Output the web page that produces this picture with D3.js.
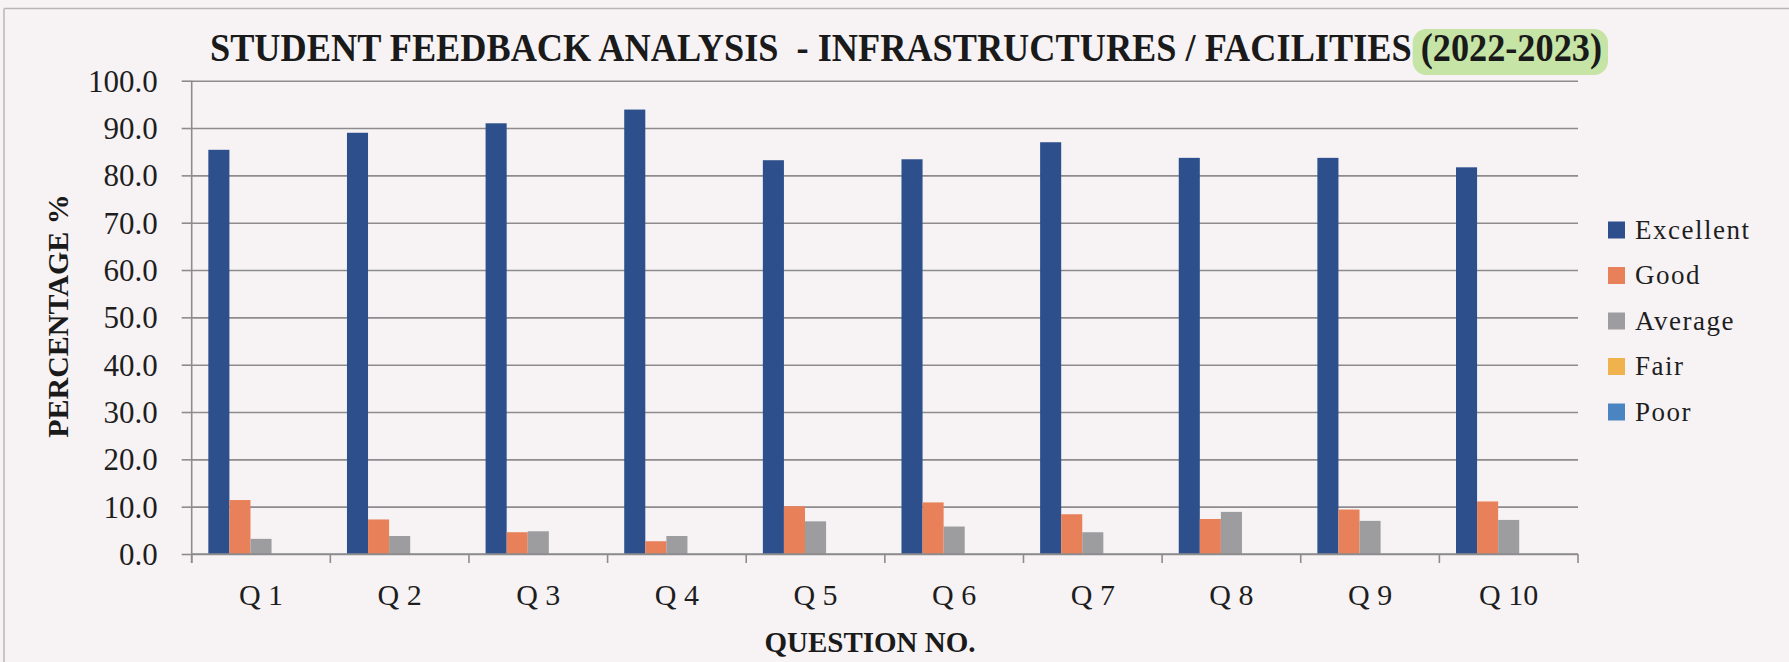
<!DOCTYPE html>
<html>
<head>
<meta charset="utf-8">
<script src="https://cdn.jsdelivr.net/npm/d3@7"></script>
<style>
    html, body { margin: 0; padding: 0; background: #f7f3f5; }
    svg { display: block; }
</style>
</head>
<body>
<svg id="chart" width="1789" height="662"></svg>
<script>
// data
const questions = ['Q 1', 'Q 2', 'Q 3', 'Q 4', 'Q 5', 'Q 6', 'Q 7', 'Q 8', 'Q 9', 'Q 10'];
const seriesNames = ['Excellent', 'Good', 'Average', 'Fair', 'Poor'];
const excellent = [85.4, 89.0, 91.0, 93.9, 83.2, 83.4, 87.0, 83.7, 83.7, 81.7];
const good = [11.4, 7.3, 4.6, 2.7, 10.1, 10.9, 8.4, 7.4, 9.4, 11.1];
const average = [3.2, 3.8, 4.8, 3.8, 6.9, 5.8, 4.6, 8.9, 7.0, 7.2];
const fair = [0, 0, 0, 0, 0, 0, 0, 0, 0, 0];
const poor = [0, 0, 0, 0, 0, 0, 0, 0, 0, 0];
const yTicks = [0, 10, 20, 30, 40, 50, 60, 70, 80, 90, 100];

const colors = {
    Excellent: '#2d4f8c',
    Good: '#e8805a',
    Average: '#9d9d9f',
    Fair: '#f0b24c',
    Poor: '#4b85c1'
};
const serif = '"Liberation Serif", "Times New Roman", serif';

const margin = { top: 80.7, left: 191.7 };
const width = 1386.3;
const height = 473.3;

const svg = d3.select('#chart');

// thin frame of the original chart box
svg.append('line')
    .attr('x1', 4).attr('x2', 1789).attr('y1', 8.5).attr('y2', 8.5)
    .attr('stroke', '#b9b6b8').attr('stroke-width', 1.5);
svg.append('line')
    .attr('x1', 4).attr('x2', 4).attr('y1', 8.5).attr('y2', 662)
    .attr('stroke', '#b9b6b8').attr('stroke-width', 1.5);

// Title with highlighted year
const highlight = svg.append('rect')
    .attr('rx', 14)
    .attr('fill', '#bde096')
    .attr('opacity', 0.85);

const title = svg.append('text')
    .attr('x', 210)
    .attr('y', 61)
    .attr('textLength', 1392)
    .attr('lengthAdjust', 'spacingAndGlyphs')
    .style('font-family', serif)
    .style('font-weight', 'bold')
    .style('font-size', '39px')
    .style('fill', '#1a1a1a')
    .style('white-space', 'pre')
    .text('STUDENT FEEDBACK ANALYSIS  - INFRASTRUCTURES / FACILITIES (2022-2023)');

const titleStr = title.text();
const startIdx = titleStr.indexOf('(');
let hx0 = 1365, hx1 = 1603;
try {
    hx0 = title.node().getStartPositionOfChar(startIdx).x - 8;
    hx1 = title.node().getEndPositionOfChar(titleStr.length - 1).x + 6;
} catch (e) {}
highlight
    .attr('x', hx0)
    .attr('y', 29)
    .attr('width', hx1 - hx0)
    .attr('height', 46);

const g = svg.append('g')
    .attr('transform', 'translate(' + margin.left + ',' + margin.top + ')');

// Scales
const x0 = d3.scaleBand()
    .domain(questions)
    .range([0, width])
    .paddingInner(0.24)
    .paddingOuter(0.12);

const x1 = d3.scaleBand()
    .domain(seriesNames)
    .range([0, x0.bandwidth()]);

const y = d3.scaleLinear()
    .domain([0, 100])
    .range([height, 0]);

// Gridlines
g.append('g')
    .call(d3.axisLeft(y).tickValues(yTicks).tickSize(-width).tickFormat(''))
    .call(a => a.select('.domain').remove())
    .call(a => a.selectAll('line').attr('stroke', '#8d8b8e').attr('stroke-width', 1.6));

// Y axis
g.append('g')
    .call(d3.axisLeft(y).tickValues(yTicks).tickSize(10).tickPadding(24).tickFormat(d3.format('.1f')))
    .call(a => a.select('.domain').remove())
    .call(a => a.selectAll('line').attr('stroke', '#8d8b8e').attr('stroke-width', 1.6))
    .call(a => a.selectAll('text')
        .style('font-family', serif)
        .style('font-size', '31px')
        .attr('fill', '#1e1e1e')
        .attr('dy', '0.34em'));

// Bars
const rows = questions.map((q, i) => ({
    q: q,
    values: [
        { key: 'Excellent', value: excellent[i] },
        { key: 'Good', value: good[i] },
        { key: 'Average', value: average[i] },
        { key: 'Fair', value: fair[i] },
        { key: 'Poor', value: poor[i] }
    ]
}));

g.selectAll('.cluster')
    .data(rows)
    .enter()
    .append('g')
    .attr('class', 'cluster')
    .attr('transform', d => 'translate(' + x0(d.q) + ',0)')
    .selectAll('rect')
    .data(d => d.values)
    .enter()
    .append('rect')
    .attr('x', d => x1(d.key))
    .attr('y', d => y(d.value))
    .attr('width', x1.bandwidth())
    .attr('height', d => height - y(d.value))
    .attr('fill', d => colors[d.key]);

// X axis line + category boundary ticks
const xBounds = d3.scaleLinear().domain([0, questions.length]).range([0, width]);
g.append('line')
    .attr('x1', 0).attr('x2', width)
    .attr('y1', height).attr('y2', height)
    .attr('stroke', '#8d8b8e').attr('stroke-width', 1.6);
g.append('line')
    .attr('x1', 0).attr('x2', 0)
    .attr('y1', 0).attr('y2', height + 9)
    .attr('stroke', '#8d8b8e').attr('stroke-width', 1.6);
g.selectAll('.xtick')
    .data(d3.range(questions.length + 1))
    .enter()
    .append('line')
    .attr('class', 'xtick')
    .attr('x1', d => xBounds(d)).attr('x2', d => xBounds(d))
    .attr('y1', height).attr('y2', height + 9)
    .attr('stroke', '#8d8b8e').attr('stroke-width', 1.6);

g.append('g')
    .attr('transform', 'translate(0,' + height + ')')
    .call(d3.axisBottom(x0).tickSize(0))
    .call(a => a.select('.domain').remove())
    .call(a => a.selectAll('text')
        .attr('y', 51)
        .attr('dy', 0)
        .style('font-family', serif)
        .style('font-size', '30px')
        .attr('fill', '#1e1e1e'));

// Axis titles
svg.append('text')
    .attr('x', 870)
    .attr('y', 652)
    .attr('text-anchor', 'middle')
    .style('font-family', serif)
    .style('font-weight', 'bold')
    .style('font-size', '29px')
    .style('fill', '#1a1a1a')
    .text('QUESTION NO.');

svg.append('text')
    .attr('transform', 'translate(68,316) rotate(-90)')
    .attr('text-anchor', 'middle')
    .style('font-family', serif)
    .style('font-weight', 'bold')
    .style('font-size', '30px')
    .style('fill', '#1a1a1a')
    .text('PERCENTAGE %');

// Legend
const legend = svg.append('g')
    .attr('transform', 'translate(1608,230)');

seriesNames.forEach((name, i) => {
    legend.append('rect')
        .attr('x', 0)
        .attr('y', i * 45.5 - 8.5)
        .attr('width', 17)
        .attr('height', 17)
        .attr('fill', colors[name]);

    legend.append('text')
        .attr('x', 27)
        .attr('y', i * 45.5)
        .attr('dy', '0.33em')
        .style('font-family', serif)
        .style('font-size', '27px')
        .style('letter-spacing', '1.5px')
        .style('fill', '#1e1e1e')
        .text(name);
});
</script>
</body>
</html>
